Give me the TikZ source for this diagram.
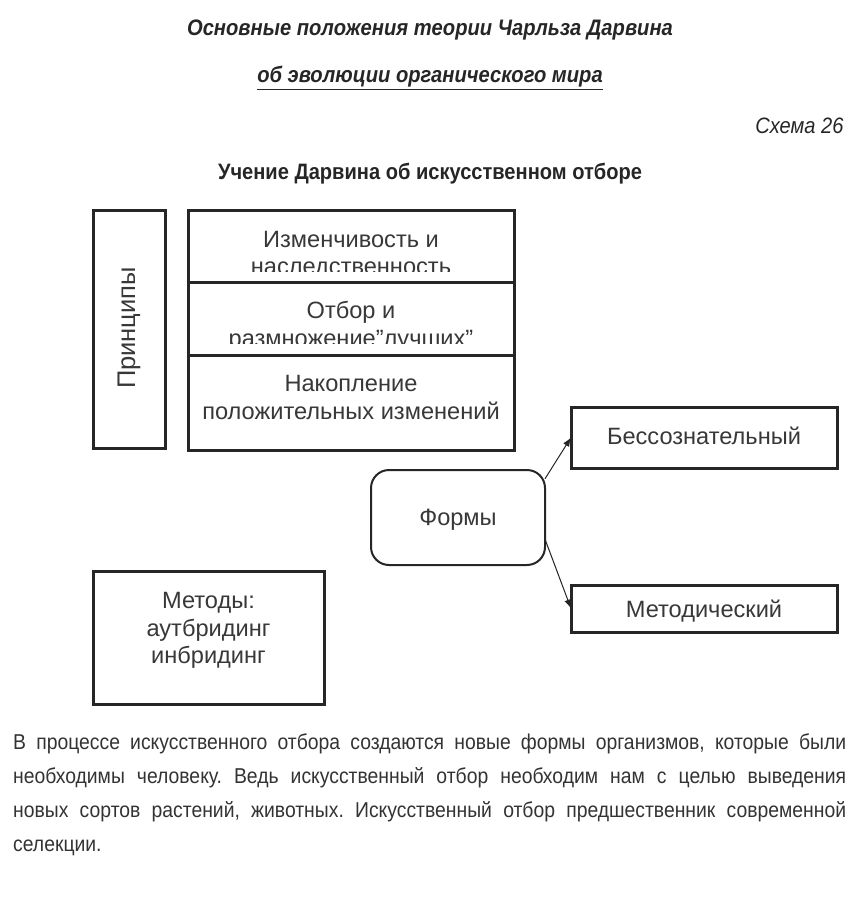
\documentclass[tikz,border=0pt]{standalone}
\usepackage{fontspec}
\setmainfont{Liberation Sans}
\newfontfamily\narrowfont[FakeStretch=0.9]{Liberation Sans}
\usetikzlibrary{arrows.meta,positioning}
\setlength{\parindent}{0pt}
\frenchspacing
\newcommand{\boxfont}{\fontsize{23.6}{27.5}\selectfont}

\begin{document}
\begin{tikzpicture}[
    x=1pt, y=-1pt,
    box/.style={draw=black!85, line width=3pt, fill=white, inner sep=0pt, outer sep=0pt},
    roundbox/.style={box, line width=2pt, rounded corners=18pt},
    boxtext/.style={font=\boxfont, text=black!78, align=center, inner sep=0pt},
    arrow/.style={-{Latex[length=9pt,width=7pt]}, line width=1pt, draw=black!85},
    heading/.style={font=\narrowfont\fontsize{22.3}{26}\selectfont, text=black!85}
  ]
  \useasboundingbox (0,0) rectangle (857,923);

  % titles
  \node[heading, font=\narrowfont\fontsize{22.4}{26}\selectfont\bfseries\itshape] (title) at (430,30) {Основные положения теории Чарльза Дарвина};
  \node[heading, font=\narrowfont\fontsize{22.4}{26}\selectfont\bfseries\itshape] (subtitle) at (430,78) {\underline{об эволюции органического мира}};
  \node[heading, font=\narrowfont\fontsize{22.3}{26}\selectfont\itshape, anchor=east] (scheme) at (847,126) {Схема 26};
  \node[heading, font=\narrowfont\fontsize{22.3}{26}\selectfont\bfseries] (doctrine) at (430,174) {Учение Дарвина об искусственном отборе};

  % principles
  \node[box, anchor=north west, minimum width=72pt, minimum height=238pt] (principles) at (93,210) {};
  \node[boxtext, font=\fontsize{25.5}{28}\selectfont, rotate=90] (principlestext) at ([yshift=1pt]principles.center) {Принципы};

  \node[box, anchor=north west, minimum width=326pt, minimum height=72pt] (variability) at (188,210) {};
  \begin{scope}
    \clip (variability.north west) rectangle ([yshift=11pt]variability.south east);
    \node[boxtext] (variabilitytext) at ([yshift=-9pt]variability.center) {Изменчивость и\\наследственность};
  \end{scope}
  \node[box, below=0pt of variability, minimum width=326pt, minimum height=73pt] (selection) {};
  \begin{scope}
    \clip (selection.north west) rectangle ([yshift=12pt]selection.south east);
    \node[boxtext] (selectiontext) at ([yshift=-8pt]selection.center) {Отбор и\\размножение”лучших”};
  \end{scope}
  \node[box, below=0pt of selection, minimum width=326pt, minimum height=95pt] (accumulation) {};
  \node[boxtext] (accumulationtext) at ([yshift=5pt]accumulation.center) {Накопление\\положительных изменений};

  % forms
  \node[roundbox, anchor=north west, minimum width=174pt, minimum height=95pt] (forms) at (371,470) {};
  \node[boxtext] (formstext) at ([yshift=-2pt]forms.center) {Формы};
  \node[box, anchor=north west, minimum width=266pt, minimum height=61pt] (unconscious) at (571,407) {};
  \node[boxtext] (unconscioustext) at ([yshift=2pt]unconscious.center) {Бессознательный};
  \node[box, anchor=north west, minimum width=266pt, minimum height=47pt] (methodic) at (571,585) {};
  \node[boxtext] (methodictext) at ([yshift=-3pt]methodic.center) {Методический};
  \draw[arrow] (forms.24) -- (unconscious.west);
  \draw[arrow] (forms.-14) -- (methodic.west);

  % methods
  \node[box, anchor=north west, minimum width=231pt, minimum height=133pt] (methods) at (93,571) {};
  \node[boxtext] (methodstext) at ([yshift=7pt]methods.center) {Методы:\\аутбридинг\\инбридинг};

  % explanation
  \node[anchor=north west, inner sep=0pt, text width=833pt, align=justify, text=black!80,
        font=\narrowfont\fontsize{21.5}{34}\selectfont] (note) at (13,734)
    {\hyphenpenalty=10000\relax
     В процессе искусственного отбора создаются новые формы организмов, которые были\linebreak
     необходимы человеку. Ведь искусственный отбор необходим нам с целью выведения\linebreak
     новых сортов растений, животных. Искусственный отбор предшественник современной\linebreak
     селекции.};
\end{tikzpicture}
\end{document}
